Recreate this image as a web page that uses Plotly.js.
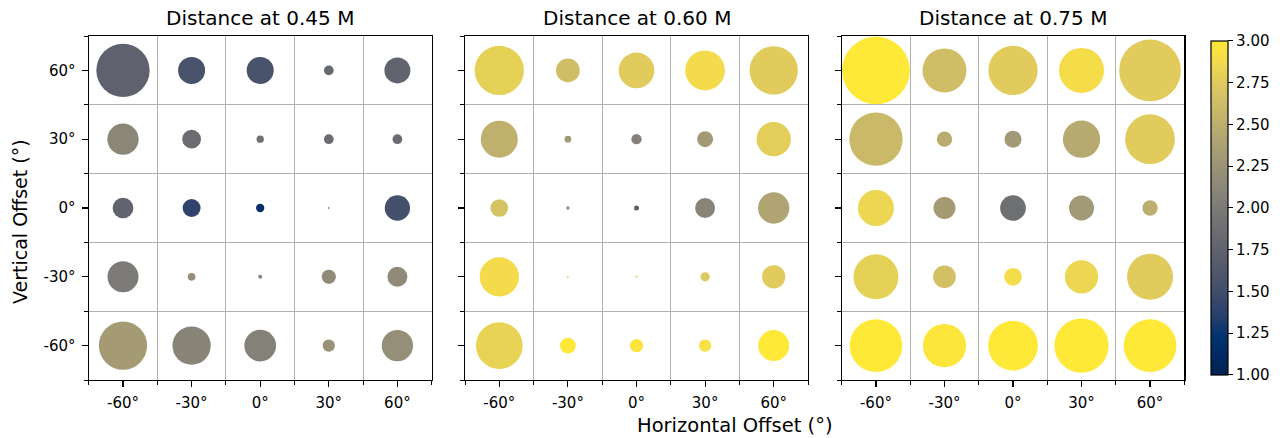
<!DOCTYPE html>
<html>
<head>
<meta charset="utf-8">
<script src="https://cdn.plot.ly/plotly-3.0.1.min.js"></script>
<style>html,body{margin:0;padding:0;background:#fff;}#chart{width:1286px;height:438px;}</style>
</head>
<body>
<div id="chart"></div>
<script>
// ---- data ----
const hOffsets = [-60, -30, 0, 30, 60];          // columns
const vOffsets = [60, 30, 0, -30, -60];          // rows (top to bottom)
const tickLabels = ["-60°", "-30°", "0°", "30°", "60°"];
const panelTitles = ["Distance at 0.45 M", "Distance at 0.60 M", "Distance at 0.75 M"];

// colour values (rows = vOffsets, cols = hOffsets)
const value045 = [
  [1.74, 1.56, 1.56, 1.80, 1.76],
  [2.12, 1.84, 1.90, 1.84, 1.84],
  [1.76, 1.40, 1.18, 1.30, 1.54],
  [2.00, 2.20, 2.12, 2.16, 2.16],
  [2.32, 2.10, 2.06, 2.24, 2.20]
];
const value060 = [
  [2.80, 2.64, 2.76, 2.88, 2.76],
  [2.52, 2.30, 2.06, 2.30, 2.78],
  [2.68, 2.14, 1.70, 2.10, 2.40],
  [2.88, 2.70, 2.70, 2.74, 2.76],
  [2.82, 3.00, 2.97, 2.94, 3.00]
];
const value075 = [
  [3.00, 2.64, 2.76, 2.90, 2.76],
  [2.60, 2.48, 2.30, 2.46, 2.76],
  [2.84, 2.32, 1.88, 2.30, 2.50],
  [2.80, 2.66, 2.90, 2.84, 2.76],
  [3.00, 2.98, 3.00, 3.00, 3.00]
];

// bubble area values
const area045 = [
  [2841, 729, 729, 94, 676],
  [980, 350, 53, 94, 94],
  [430, 324, 69, 2, 640],
  [961, 59, 16, 204, 400],
  [2333, 1467, 1005, 151, 980]
];
const area060 = [
  [2430, 562, 1274, 1576, 2333],
  [1369, 45, 106, 256, 1176],
  [313, 11, 25, 400, 980],
  [1544, 3, 4, 86, 543],
  [2181, 246, 177, 151, 961]
];
const area075 = [
  [4583, 1936, 2430, 2025, 3807],
  [2841, 234, 289, 1391, 2470],
  [1296, 484, 660, 625, 234],
  [2025, 515, 313, 1109, 2116],
  [2777, 1875, 2470, 2948, 2777]
];

const cbTicks = [1.00, 1.25, 1.50, 1.75, 2.00, 2.25, 2.50, 2.75, 3.00];

// ---- build ----
const panels = [[value045, area045], [value060, area060], [value075, area075]];
const W = 1286, H = 438;
const xDomPx = [[88.7, 431.7], [465, 808], [841.7, 1184.3]];
const yDomPx = [36, 380];
const FONT = "DejaVu Sans, Liberation Sans, sans-serif";

const cividis = [
  [0, 'rgb(0,34,78)'], [0.058824, 'rgb(0,42,102)'], [0.117647, 'rgb(0,52,110)'],
  [0.176471, 'rgb(39,63,108)'], [0.235294, 'rgb(60,74,107)'], [0.294118, 'rgb(76,85,107)'],
  [0.352941, 'rgb(91,95,109)'], [0.411765, 'rgb(104,106,112)'], [0.470588, 'rgb(117,117,117)'],
  [0.529412, 'rgb(131,129,120)'], [0.588235, 'rgb(146,140,120)'], [0.647059, 'rgb(161,152,118)'],
  [0.705882, 'rgb(176,165,114)'], [0.764706, 'rgb(192,177,109)'], [0.823529, 'rgb(209,191,102)'],
  [0.882353, 'rgb(225,204,92)'], [0.941176, 'rgb(243,219,76)'], [1, 'rgb(254,232,56)']
];

const traces = [];
panels.forEach((p, k) => {
  const xs = [], ys = [], cs = [], ss = [];
  vOffsets.forEach((v, r) => {
    hOffsets.forEach((h, c) => {
      xs.push(h); ys.push(v); cs.push(p[0][r][c]); ss.push(p[1][r][c]);
    });
  });
  traces.push({
    type: 'scatter', mode: 'markers',
    x: xs, y: ys,
    xaxis: k === 0 ? 'x' : 'x' + (k + 1),
    yaxis: k === 0 ? 'y' : 'y' + (k + 1),
    marker: {
      color: cs, coloraxis: 'coloraxis',
      size: ss, sizemode: 'area', sizeref: 2, sizemin: 0,
      line: {width: 0}, opacity: 1
    },
    hoverinfo: 'skip', showlegend: false
  });
});

function axisCommon(showLabels) {
  return {
    range: [-75, 75], autorange: false, fixedrange: true,
    tickmode: 'array', tickvals: hOffsets, ticktext: tickLabels,
    showticklabels: showLabels,
    ticks: 'outside', ticklen: 6, tickwidth: 1.1, tickcolor: '#000',
    tickfont: {family: FONT, size: 15, color: '#000'},
    showgrid: false, zeroline: false,
    showline: true, mirror: true, linecolor: '#000', linewidth: 1.2,
    minor: {
      tickmode: 'array', tickvals: [-75, -45, -15, 15, 45, 75],
      ticks: 'outside', ticklen: 3.5, tickwidth: 1, tickcolor: '#000',
      showgrid: true, gridcolor: '#b0b0b0', gridwidth: 1.1
    }
  };
}

const layout = {
  width: W, height: H,
  margin: {l: 0, r: 0, t: 0, b: 0},
  paper_bgcolor: '#fff', plot_bgcolor: '#fff',
  font: {family: FONT, color: '#000'},
  showlegend: false,
  coloraxis: {
    cmin: 1, cmax: 3, colorscale: cividis,
    colorbar: {
      thickness: 17, thicknessmode: 'pixels',
      len: 334, lenmode: 'pixels',
      x: 1210.7 / W, xanchor: 'left', xref: 'paper',
      y: 1 - 207.9 / H, yanchor: 'middle', yref: 'paper',
      xpad: 0, ypad: 0,
      outlinewidth: 1.2, outlinecolor: '#000',
      tickmode: 'array', tickvals: cbTicks, ticktext: cbTicks.map(v => v.toFixed(2)),
      ticks: 'outside', ticklen: 5, tickwidth: 1, tickcolor: '#000',
      tickfont: {family: FONT, size: 15, color: '#000'}
    }
  },
  annotations: []
};

const yDom = [1 - yDomPx[1] / H, 1 - yDomPx[0] / H];
xDomPx.forEach((d, k) => {
  const xa = k === 0 ? 'xaxis' : 'xaxis' + (k + 1);
  const ya = k === 0 ? 'yaxis' : 'yaxis' + (k + 1);
  const xid = k === 0 ? 'x' : 'x' + (k + 1);
  layout[xa] = Object.assign(axisCommon(true), {domain: [d[0] / W, d[1] / W], anchor: k === 0 ? 'y' : 'y' + (k + 1), ticklabelstandoff: 3});
  layout[ya] = Object.assign(axisCommon(k === 0), {domain: yDom, anchor: xid, tickvals: vOffsets, ticktext: vOffsets.map(v => v + '°'), ticklabelstandoff: 3});
  layout.annotations.push({
    text: panelTitles[k], xref: 'paper', yref: 'paper',
    x: (d[0] + d[1]) / 2 / W, y: 1 - 18.5 / H, xanchor: 'center', yanchor: 'middle',
    showarrow: false, font: {family: FONT, size: 20, color: '#000'}
  });
});

layout.annotations.push({
  text: 'Horizontal Offset (°)', xref: 'paper', yref: 'paper',
  x: 735 / W, y: 1 - 425 / H, xanchor: 'center', yanchor: 'middle',
  showarrow: false, font: {family: FONT, size: 19.5, color: '#000'}
});
layout.annotations.push({
  text: 'Vertical Offset (°)', xref: 'paper', yref: 'paper',
  x: 20 / W, y: 1 - 222 / H, xanchor: 'center', yanchor: 'middle', textangle: -90,
  showarrow: false, font: {family: FONT, size: 19, color: '#000'}
});

Plotly.newPlot('chart', traces, layout, {displayModeBar: false, staticPlot: true});
</script>
</body>
</html>
